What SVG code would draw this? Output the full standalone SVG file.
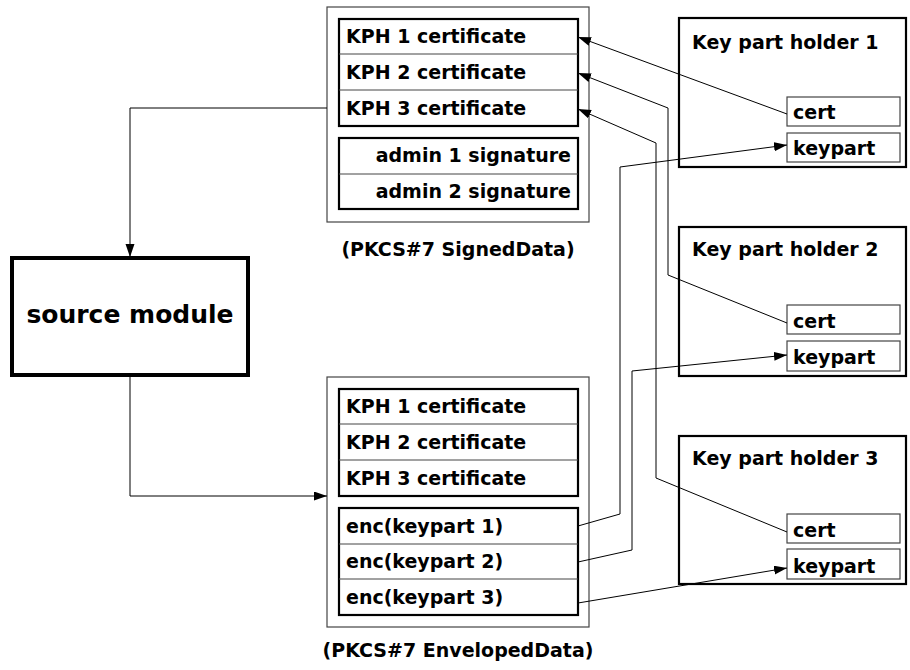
<svg xmlns="http://www.w3.org/2000/svg" width="910" height="670" viewBox="0 0 910 670">
<style>
text{font-family:"DejaVu Sans","Liberation Sans",sans-serif;font-weight:bold;fill:#000}
.t{font-size:19px}
.outer{fill:#fff;stroke:#444;stroke-width:1.2}
.inner{fill:#fff;stroke:#000;stroke-width:2.2}
.div{stroke:#444;stroke-width:1}
.kph{fill:#fff;stroke:#000;stroke-width:2.2}
.small{fill:#fff;stroke:#444;stroke-width:1.2}
.c{fill:none;stroke:#000;stroke-width:1}
</style>
<defs>
<marker id="ah" markerUnits="userSpaceOnUse" markerWidth="14" markerHeight="10" refX="13" refY="4.5" orient="auto">
<path d="M0,0 L13,4.5 L0,9 z" fill="#000"/>
</marker>
</defs>
<rect width="910" height="670" fill="#fff"/>
<g id="signed">
<rect class="outer" x="327" y="7" width="262" height="215"/>
<rect class="inner" x="339" y="19" width="239" height="107"/>
<line class="div" x1="339" y1="54" x2="578" y2="54"/>
<line class="div" x1="339" y1="90" x2="578" y2="90"/>
<text class="t" x="346" y="43">KPH 1 certificate</text>
<text class="t" x="346" y="79">KPH 2 certificate</text>
<text class="t" x="346" y="115">KPH 3 certificate</text>
<rect class="inner" x="339" y="138" width="239" height="71"/>
<line class="div" x1="339" y1="174" x2="578" y2="174"/>
<text class="t" x="571" y="162" text-anchor="end">admin 1 signature</text>
<text class="t" x="571" y="198" text-anchor="end">admin 2 signature</text>
<text class="t" x="458" y="256" text-anchor="middle">(PKCS#7 SignedData)</text>
</g>
<g id="source">
<rect x="12" y="258" width="236" height="117" fill="#fff" stroke="#000" stroke-width="4"/>
<text x="130" y="323" font-size="25" text-anchor="middle">source module</text>
</g>
<g id="enveloped">
<rect class="outer" x="327" y="377" width="262" height="250"/>
<rect class="inner" x="339" y="389" width="239" height="107"/>
<line class="div" x1="339" y1="424" x2="578" y2="424"/>
<line class="div" x1="339" y1="460" x2="578" y2="460"/>
<text class="t" x="346" y="413">KPH 1 certificate</text>
<text class="t" x="346" y="449">KPH 2 certificate</text>
<text class="t" x="346" y="485">KPH 3 certificate</text>
<rect class="inner" x="339" y="508" width="239" height="107"/>
<line class="div" x1="339" y1="544" x2="578" y2="544"/>
<line class="div" x1="339" y1="579" x2="578" y2="579"/>
<text class="t" x="346" y="533">enc(keypart 1)</text>
<text class="t" x="346" y="568">enc(keypart 2)</text>
<text class="t" x="346" y="604">enc(keypart 3)</text>
<text class="t" x="458" y="657" text-anchor="middle">(PKCS#7 EnvelopedData)</text>
</g>
<g id="kph1">
<rect class="kph" x="679" y="18" width="227" height="149"/>
<text class="t" x="692" y="49">Key part holder 1</text>
<rect class="small" x="787" y="97" width="113" height="29"/>
<text class="t" x="793" y="119">cert</text>
<rect class="small" x="787" y="133" width="113" height="29"/>
<text class="t" x="793" y="155">keypart</text>
</g>
<g id="kph2">
<rect class="kph" x="679" y="227" width="227" height="149"/>
<text class="t" x="692" y="256">Key part holder 2</text>
<rect class="small" x="787" y="305" width="113" height="29"/>
<text class="t" x="793" y="328">cert</text>
<rect class="small" x="787" y="341" width="113" height="30"/>
<text class="t" x="793" y="364">keypart</text>
</g>
<g id="kph3">
<rect class="kph" x="679" y="436" width="227" height="148"/>
<text class="t" x="692" y="465">Key part holder 3</text>
<rect class="small" x="787" y="514" width="113" height="29"/>
<text class="t" x="793" y="537">cert</text>
<rect class="small" x="787" y="549" width="113" height="30"/>
<text class="t" x="793" y="573">keypart</text>
</g>
<g id="connectors">
<polyline class="c" points="327,108 130,108 130,257" marker-end="url(#ah)"/>
<polyline class="c" points="130,376 130,496 327,496" marker-end="url(#ah)"/>
<polyline class="c" points="787,114 578,37" marker-end="url(#ah)"/>
<polyline class="c" points="787,323 668,275 668,108 578,73" marker-end="url(#ah)"/>
<polyline class="c" points="787,532 656,478 656,143 578,109" marker-end="url(#ah)"/>
<polyline class="c" points="578,526 620,514 620,167 787,145" marker-end="url(#ah)"/>
<polyline class="c" points="578,562 632,550 632,371 787,355" marker-end="url(#ah)"/>
<polyline class="c" points="578,603 787,568" marker-end="url(#ah)"/>
</g>
</svg>
